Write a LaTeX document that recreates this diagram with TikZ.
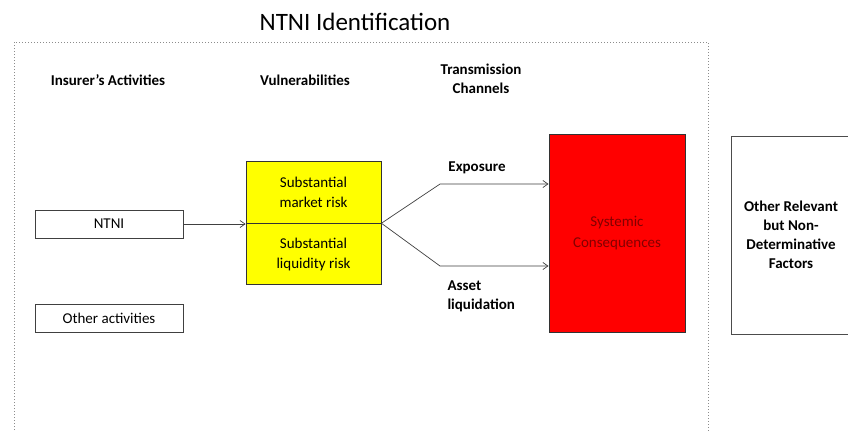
\documentclass[tikz,border=0pt]{standalone}
\usepackage{fontspec}
\setmainfont{Carlito}
\usepackage{tikz}
\usetikzlibrary{positioning, arrows.meta, calc}

\definecolor{sysred}{RGB}{255,0,0}
\definecolor{sysdark}{RGB}{130,0,0}
\definecolor{vulnyellow}{RGB}{255,255,0}

\begin{document}
\begin{tikzpicture}[x=1pt, y=-1pt,
    colhead/.style={font=\fontsize{15}{19}\selectfont\bfseries, align=center},
    actbox/.style={rectangle, draw=black!75, line width=0.8pt, minimum width=148pt,
                   minimum height=28pt, inner sep=0pt, font=\fontsize{15}{18}\selectfont},
    vulnbox/.style={rectangle, draw=black!80, line width=0.8pt, fill=vulnyellow,
                    minimum width=135pt, minimum height=61.5pt, inner sep=0pt,
                    align=center, font=\fontsize{15}{20}\selectfont},
    link/.style={draw=black!75, line width=0.7pt},
    linkarrow/.style={link, -{Straight Barb[length=5pt, width=7pt]}}
]
    % Canvas
    \useasboundingbox (0,0) rectangle (848,431);
    \clip (0,0) rectangle (848,431);
    \fill[white] (0,0) rectangle (848,431);

    % Title and frame
    \node[font=\fontsize{25}{28}\selectfont] (title) at (355,22) {NTNI Identification};
    \draw[black!45, line width=1pt, dotted] (14,445) -- (14,42) -- (708,42) -- (708,445);

    % Column headings
    \node[colhead] (hact) at (108,80) {Insurer's Activities};
    \node[colhead] (hvul) at (305,80) {Vulnerabilities};
    \node[colhead] (htra) at (481,79) {Transmission\\Channels};

    % Insurer's activities
    \node[actbox] (ntni) at (109,224) {NTNI};
    \node[actbox] (other) at (109,318) {Other activities};

    % Vulnerabilities
    \node[vulnbox] (market) at (313.5,192.5) {Substantial\\market risk};
    \node[vulnbox] (liquid) at (313.5,254) {Substantial\\liquidity risk};

    % Systemic consequences
    \node[rectangle, draw=black!80, line width=1pt, fill=sysred, minimum width=136pt,
          minimum height=198pt, inner sep=0pt, align=center, text=sysdark,
          font=\fontsize{15}{21}\selectfont] (sys) at (617,233) {Systemic\\Consequences};

    % Other factors
    \node[rectangle, draw=black!70, line width=1pt, minimum width=120pt,
          minimum height=198pt, inner sep=0pt, align=center,
          font=\fontsize{15}{19}\selectfont\bfseries] (factors) at (791,235)
          {Other Relevant\\but Non-\\Determinative\\Factors};

    % Channels
    \coordinate (split) at ($(market.south east)!0.5!(liquid.north east)$);
    \coordinate (expbend) at (440,184);
    \coordinate (liqbend) at (440,266);
    \draw[linkarrow] (ntni.east) -- (ntni.east -| market.west);
    \draw[linkarrow] (split) -- (expbend) -- (expbend -| sys.west);
    \draw[linkarrow] (split) -- (liqbend) -- (liqbend -| sys.west);
    \node[colhead] (exposure) at (477,168) {Exposure};
    \node[colhead, align=left, anchor=north west] (assetliq) at (444,277) {Asset\\liquidation};
\end{tikzpicture}
\end{document}
